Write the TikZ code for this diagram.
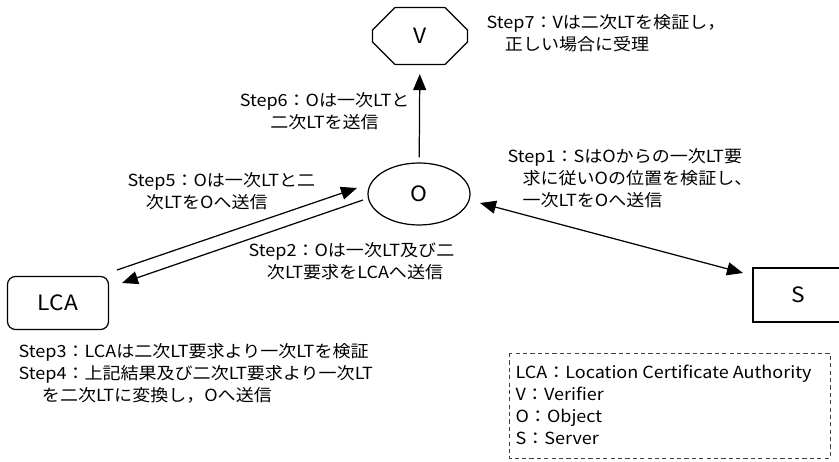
\documentclass[tikz,border=0pt]{standalone}
\usepackage{fontspec}
\setmainfont{Noto Sans CJK JP}[FakeStretch=1.08]
\usetikzlibrary{arrows.meta, shapes.geometric, shapes.misc}

\begin{document}
\begin{tikzpicture}[x=0.02cm, y=-0.02cm, line width=0.7pt,
  font=\fontsize{9.5}{12.5}\selectfont,
  ent/.style={draw, font=\fontsize{12}{14}\selectfont},
  txt/.style={inner sep=0pt, align=left, anchor=west},
  arr/.style={-{Triangle[length=0.32cm, width=0.26cm]}},
  keybox/.style={draw=black!75, line width=0.5pt, dash pattern=on 2.4pt off 1.8pt}]
\path[use as bounding box, clip] (0,0) rectangle (839,462);
\node[ent, chamfered rectangle, chamfered rectangle xsep=0.2cm, chamfered rectangle ysep=0.36cm,
  minimum width=1.9cm, minimum height=1.14cm] (V) at (420,36) {V};
\node[ent, ellipse, minimum width=2.04cm, minimum height=1.24cm] (O) at (419,194) {O};
\node[ent, rounded corners=0.16cm, minimum width=2.02cm, minimum height=1.06cm] (LCA) at (58,303) {LCA};
\node[ent, minimum width=1.8cm, minimum height=1.08cm] (S) at (798,295) {S};
\coordinate (o5) at (357,188);
\coordinate (l5) at (117,270);
\coordinate (o2) at (363,200);
\coordinate (l2) at (122,283);
\coordinate (o1) at (480,203);
\coordinate (s1) at (743,273);
\draw[arr, shorten >=0.18cm, shorten <=0.1cm] (O) -- (V);
\draw[arr] (l5) -- (o5);
\draw[arr] (o2) -- (l2);
\draw[{Triangle[length=0.32cm, width=0.26cm]}-{Triangle[length=0.32cm, width=0.26cm]}] (o1) -- (s1);
\node[txt] (t7) at (486,33) {Step7：Vは二次LTを検証し，\\\hspace*{1.1em}正しい場合に受理};
\node[inner sep=0pt, align=center, anchor=east] (t6) at (410,111) {Step6：Oは一次LTと\\二次LTを送信};
\node[txt] (t5) at (127,191) {Step5：Oは一次LTと二\\\hspace*{1.1em}次LTをOへ送信};
\node[txt] (t2) at (248,261) {Step2：Oは一次LT及び二\\\hspace*{1.1em}次LT要求をLCAへ送信};
\node[txt] (t1) at (507,178) {Step1：SはOからの一次LT要\\\hspace*{0.9em}求に従いOの位置を検証し、\\\hspace*{0.9em}一次LTをOへ送信};
\node[txt] (t34) at (18,373) {Step3：LCAは二次LT要求より一次LTを検証\\Step4：上記結果及び二次LT要求より一次LT\\\hspace*{1.4em}を二次LTに変換し，Oへ送信};
\draw[keybox] (509,353) rectangle (830,458);
\node[txt] (key) at (515,405) {LCA：Location Certificate Authority\\V：Verifier\\O：Object\\S：Server};
\end{tikzpicture}
\end{document}
